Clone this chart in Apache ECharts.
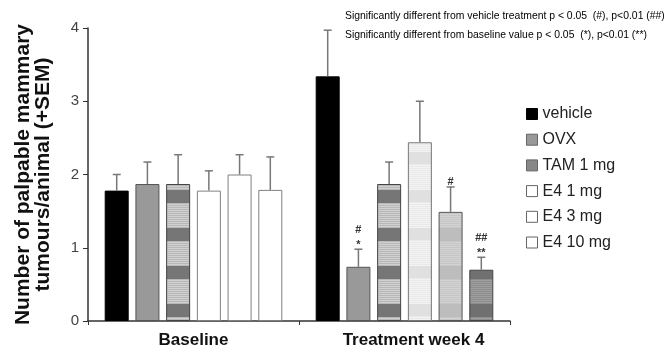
<!DOCTYPE html>
<html>
<head>
<meta charset="utf-8">
<script src="https://cdn.jsdelivr.net/npm/echarts@6/dist/echarts.min.js"></script>
<style>
  html, body { margin: 0; padding: 0; background: #fff; }
  #main { width: 667px; height: 348px; }
</style>
</head>
<body>
<div id="main"></div>
<script>
// data
var categories = ['Baseline', 'Treatment week 4'];
var groups = ['vehicle', 'OVX', 'TAM 1 mg', 'E4 1 mg', 'E4 3 mg', 'E4 10 mg'];
var baselineMean = [1.78, 1.87, 1.87, 1.78, 2.0, 1.79];
var baselineSem = [0.22, 0.30, 0.40, 0.27, 0.27, 0.45];
var week4Mean = [3.34, 0.74, 1.87, 2.44, 1.49, 0.70];
var week4Sem = [0.63, 0.24, 0.30, 0.56, 0.34, 0.17];
var week4Sig = ['', '#\n*', '', '', '#', '##\n**'];
var yTicks = [0, 1, 2, 3, 4];

var FONT = '"Liberation Sans", Arial, sans-serif';
var BAR_W = 24;
var GAP = 0.28;

// horizontal band patterns like the scanned hatching
function bands(list) {
  var h = 0;
  list.forEach(function (b) { h += b[1]; });
  var c = document.createElement('canvas');
  c.width = 8; c.height = h;
  var ctx = c.getContext('2d');
  var y = 0;
  list.forEach(function (b) {
    ctx.fillStyle = b[0];
    ctx.fillRect(0, y, 8, b[1]);
    if (b[2]) {
      ctx.fillStyle = b[2];
      for (var k = y; k < y + b[1]; k += 2) ctx.fillRect(0, k, 8, 1);
    }
    y += b[1];
  });
  return { image: c, repeat: 'repeat' };
}

var tamFill = bands([['#767676', 13], ['#d0d0d0', 25, '#b8b8b8']]);
var e41Fill = bands([['#e0e0e0', 12], ['#f3f3f3', 26, '#e9e9e9']]);
var e43Fill = bands([['#bdbdbd', 13], ['#d3d3d3', 25, '#c6c6c6']]);
var e410Fill = bands([['#707070', 13], ['#a0a0a0', 25, '#8c8c8c']]);

var baseStyle = [
  { color: '#000', borderColor: '#000' },
  { color: '#999', borderColor: '#555' },
  { color: tamFill, borderColor: '#444' },
  { color: '#fff', borderColor: '#808080' },
  { color: '#fff', borderColor: '#808080' },
  { color: '#fff', borderColor: '#808080' }
];
var weekStyle = [
  { color: '#000', borderColor: '#000' },
  { color: '#999', borderColor: '#555' },
  { color: tamFill, borderColor: '#444' },
  { color: e41Fill, borderColor: '#777' },
  { color: e43Fill, borderColor: '#555' },
  { color: e410Fill, borderColor: '#444' }
];
var legendColors = ['#000', '#999', '#888', '#fff', '#fff', '#fff'];

var series = groups.map(function (g, i) {
  return {
    name: g,
    type: 'bar',
    barWidth: BAR_W,
    barGap: (GAP * 100) + '%',
    itemStyle: { color: legendColors[i], borderColor: baseStyle[i].borderColor, borderWidth: 1 },
    data: [
      { value: baselineMean[i], itemStyle: baseStyle[i] },
      { value: week4Mean[i], itemStyle: weekStyle[i] }
    ]
  };
});

var errData = [];
groups.forEach(function (g, i) {
  errData.push([0, i, baselineMean[i], baselineMean[i] + baselineSem[i], '']);
  errData.push([1, i, week4Mean[i], week4Mean[i] + week4Sem[i], week4Sig[i]]);
});

series.push({
  type: 'custom',
  z: 5,
  silent: true,
  data: errData,
  renderItem: function (params, api) {
    var cat = api.value(0), idx = api.value(1);
    var dx = (idx - 2.5) * BAR_W * (1 + GAP);
    var p0 = api.coord([cat, api.value(2)]);
    var p1 = api.coord([cat, api.value(3)]);
    var x = p0[0] + dx;
    var st = { stroke: '#777', lineWidth: 1.5 };
    var kids = [
      { type: 'line', shape: { x1: x, y1: p0[1], x2: x, y2: p1[1] }, style: st },
      { type: 'line', shape: { x1: x - 4, y1: p1[1], x2: x + 4, y2: p1[1] }, style: st }
    ];
    var sig = errData[params.dataIndex][4];
    if (sig) {
      kids.push({
        type: 'text',
        style: {
          x: x, y: p1[1] + 3, text: sig, align: 'center', verticalAlign: 'bottom',
          font: 'bold 11px ' + FONT, lineHeight: 15, fill: '#333'
        }
      });
    }
    return { type: 'group', children: kids };
  }
});

var option = {
  animation: false,
  backgroundColor: '#fff',
  textStyle: { fontFamily: FONT },
  grid: { left: 88, right: 157, top: 28, bottom: 27, containLabel: false, outerBoundsMode: 'none' },
  legend: {
    orient: 'vertical',
    left: 526,
    top: 106,
    padding: 0,
    itemWidth: 11,
    itemHeight: 11,
    itemGap: 9.7,
    icon: 'rect',
    textStyle: { fontSize: 16, color: '#222', fontFamily: FONT },
    data: groups.map(function (g, i) {
      return { name: g, itemStyle: { color: legendColors[i], borderColor: i === 0 ? '#000' : '#666', borderWidth: 1 } };
    })
  },
  xAxis: {
    type: 'category',
    data: categories,
    axisLine: { lineStyle: { color: '#333', width: 1.5 } },
    axisTick: { show: true, length: 4, lineStyle: { color: '#333' } },
    axisLabel: {
      margin: 11,
      formatter: function (v, i) { return i === 1 ? '{b|' + v + '}' : '{a|' + v + '}'; },
      rich: {
        a: { fontSize: 17, fontWeight: 'bold', color: '#111', fontFamily: FONT },
        b: { fontSize: 17, fontWeight: 'bold', color: '#111', fontFamily: FONT, padding: [0, 0, 0, 18] }
      }
    }
  },
  yAxis: {
    type: 'value',
    min: yTicks[0],
    max: yTicks[yTicks.length - 1],
    interval: 1,
    name: 'Number of palpable mammary\ntumours/animal (+SEM)',
    nameLocation: 'middle',
    nameRotate: 90,
    nameGap: 35,
    nameTextStyle: { fontSize: 21, fontWeight: 'bold', color: '#111', lineHeight: 20, fontFamily: FONT },
    axisLine: { show: true, lineStyle: { color: '#333', width: 1.5 } },
    axisTick: { show: true, length: 5, lineStyle: { color: '#333' } },
    axisLabel: { fontSize: 15, color: '#444', margin: 9 },
    splitLine: { show: false }
  },
  graphic: [
    { type: 'text', left: 345, top: 11, style: { text: 'Significantly different from vehicle treatment p < 0.05  (#), p<0.01 (##)', font: '10.4px ' + FONT, fill: '#000' } },
    { type: 'text', left: 345, top: 30, style: { text: 'Significantly different from baseline value p < 0.05  (*), p<0.01 (**)', font: '10.4px ' + FONT, fill: '#000' } }
  ],
  series: series
};

var chart = echarts.init(document.getElementById('main'));
chart.setOption(option);
</script>
</body>
</html>
